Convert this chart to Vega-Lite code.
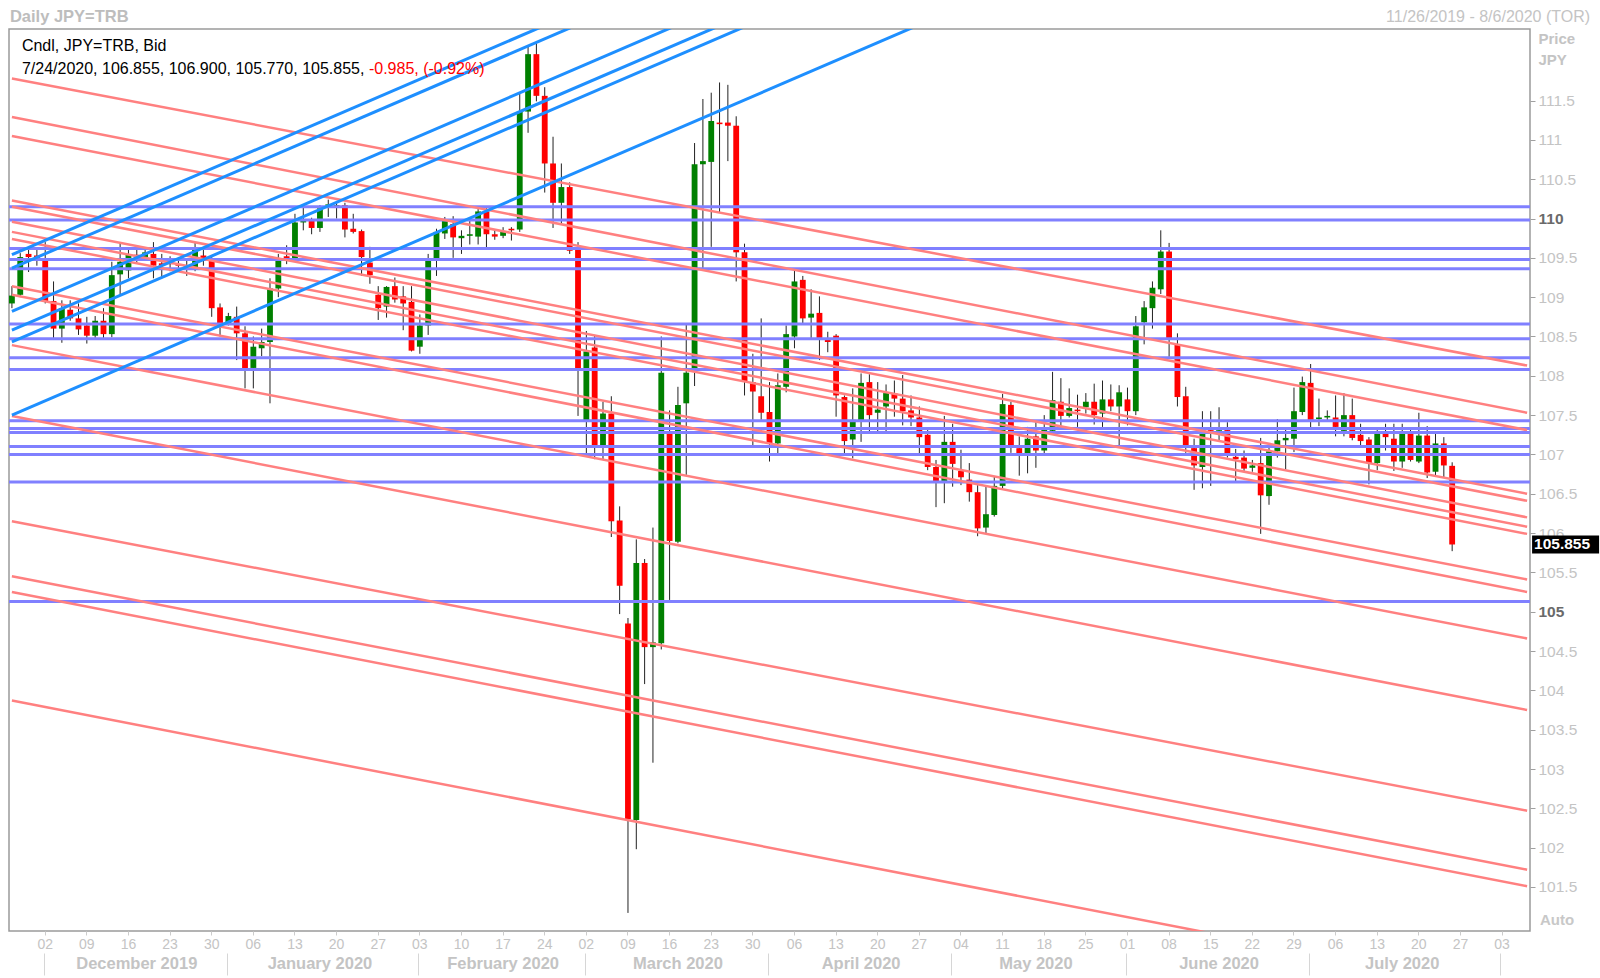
{
"$schema":"https://vega.github.io/schema/vega-lite/v6.json",
"width":1521,"height":902,
"autosize":{"type":"none"},
"padding":{"left":9,"top":29,"right":70,"bottom":47},
"background":"white",
"config":{"view":{"stroke":"#9a9a9a","strokeWidth":1.5},"font":"Liberation Sans"},
"resolve":{"axis":{"x":"independent","y":"independent"}},
"datasets":{
"candles":[
{"date":"2019-11-26","open":108.92,"high":109.14,"low":108.86,"close":109.02},
{"date":"2019-11-27","open":109.03,"high":109.56,"low":109.00,"close":109.51},
{"date":"2019-11-28","open":109.55,"high":109.60,"low":109.32,"close":109.51},
{"date":"2019-11-29","open":109.53,"high":109.60,"low":109.40,"close":109.49},
{"date":"2019-12-02","open":109.46,"high":109.70,"low":108.92,"close":108.94},
{"date":"2019-12-03","open":108.95,"high":109.20,"low":108.48,"close":108.60},
{"date":"2019-12-04","open":108.60,"high":108.96,"low":108.42,"close":108.86},
{"date":"2019-12-05","open":108.84,"high":108.96,"low":108.70,"close":108.73},
{"date":"2019-12-06","open":108.73,"high":108.92,"low":108.52,"close":108.59},
{"date":"2019-12-09","open":108.64,"high":108.75,"low":108.41,"close":108.51},
{"date":"2019-12-10","open":108.51,"high":108.76,"low":108.47,"close":108.70},
{"date":"2019-12-11","open":108.70,"high":108.86,"low":108.47,"close":108.53},
{"date":"2019-12-12","open":108.53,"high":109.45,"low":108.49,"close":109.28},
{"date":"2019-12-13","open":109.29,"high":109.69,"low":109.03,"close":109.45},
{"date":"2019-12-16","open":109.34,"high":109.60,"low":109.24,"close":109.54},
{"date":"2019-12-17","open":109.54,"high":109.62,"low":109.44,"close":109.50},
{"date":"2019-12-18","open":109.51,"high":109.62,"low":109.46,"close":109.57},
{"date":"2019-12-19","open":109.55,"high":109.70,"low":109.24,"close":109.40},
{"date":"2019-12-20","open":109.43,"high":109.55,"low":109.24,"close":109.40},
{"date":"2019-12-23","open":109.45,"high":109.52,"low":109.33,"close":109.42},
{"date":"2019-12-24","open":109.42,"high":109.47,"low":109.33,"close":109.40},
{"date":"2019-12-25","open":109.40,"high":109.47,"low":109.27,"close":109.385},
{"date":"2019-12-26","open":109.38,"high":109.69,"low":109.33,"close":109.60},
{"date":"2019-12-27","open":109.53,"high":109.60,"low":109.40,"close":109.46},
{"date":"2019-12-30","open":109.47,"high":109.51,"low":108.75,"close":108.86},
{"date":"2019-12-31","open":108.87,"high":108.92,"low":108.50,"close":108.67},
{"date":"2020-01-01","open":108.67,"high":108.80,"low":108.64,"close":108.76},
{"date":"2020-01-02","open":108.75,"high":108.88,"low":108.20,"close":108.54},
{"date":"2020-01-03","open":108.54,"high":108.63,"low":107.84,"close":108.09},
{"date":"2020-01-06","open":108.10,"high":108.50,"low":107.84,"close":108.37},
{"date":"2020-01-07","open":108.35,"high":108.60,"low":108.25,"close":108.43},
{"date":"2020-01-08","open":108.43,"high":109.24,"low":107.65,"close":109.11},
{"date":"2020-01-09","open":109.11,"high":109.55,"low":109.00,"close":109.49},
{"date":"2020-01-10","open":109.52,"high":109.66,"low":109.42,"close":109.46},
{"date":"2020-01-13","open":109.49,"high":110.06,"low":109.46,"close":109.95},
{"date":"2020-01-14","open":109.95,"high":110.15,"low":109.85,"close":109.98},
{"date":"2020-01-15","open":109.97,"high":110.01,"low":109.80,"close":109.88},
{"date":"2020-01-16","open":109.88,"high":110.17,"low":109.83,"close":110.13},
{"date":"2020-01-17","open":110.15,"high":110.24,"low":110.02,"close":110.18},
{"date":"2020-01-20","open":110.15,"high":110.20,"low":110.00,"close":110.17},
{"date":"2020-01-21","open":110.17,"high":110.20,"low":109.76,"close":109.86},
{"date":"2020-01-22","open":109.87,"high":110.06,"low":109.81,"close":109.83},
{"date":"2020-01-23","open":109.84,"high":109.86,"low":109.27,"close":109.51},
{"date":"2020-01-24","open":109.44,"high":109.64,"low":109.17,"close":109.28},
{"date":"2020-01-27","open":109.03,"high":109.14,"low":108.71,"close":108.86},
{"date":"2020-01-28","open":108.88,"high":109.14,"low":108.74,"close":109.13},
{"date":"2020-01-29","open":109.14,"high":109.25,"low":108.93,"close":108.97},
{"date":"2020-01-30","open":109.01,"high":109.14,"low":108.58,"close":108.92},
{"date":"2020-01-31","open":108.94,"high":109.14,"low":108.31,"close":108.32},
{"date":"2020-02-03","open":108.37,"high":108.78,"low":108.28,"close":108.64},
{"date":"2020-02-04","open":108.64,"high":109.55,"low":108.52,"close":109.49},
{"date":"2020-02-05","open":109.49,"high":109.87,"low":109.27,"close":109.83},
{"date":"2020-02-06","open":109.81,"high":110.02,"low":109.74,"close":109.98},
{"date":"2020-02-07","open":109.93,"high":110.03,"low":109.50,"close":109.76},
{"date":"2020-02-10","open":109.75,"high":109.85,"low":109.55,"close":109.78},
{"date":"2020-02-11","open":109.78,"high":109.98,"low":109.67,"close":109.80},
{"date":"2020-02-12","open":109.77,"high":110.12,"low":109.67,"close":110.09},
{"date":"2020-02-13","open":110.09,"high":110.14,"low":109.62,"close":109.80},
{"date":"2020-02-14","open":109.80,"high":109.86,"low":109.73,"close":109.77},
{"date":"2020-02-17","open":109.78,"high":109.89,"low":109.75,"close":109.84},
{"date":"2020-02-18","open":109.87,"high":109.89,"low":109.72,"close":109.85},
{"date":"2020-02-19","open":109.86,"high":111.59,"low":109.83,"close":111.36},
{"date":"2020-02-20","open":111.36,"high":112.20,"low":111.09,"close":112.09},
{"date":"2020-02-21","open":112.09,"high":112.23,"low":111.49,"close":111.56},
{"date":"2020-02-24","open":111.56,"high":111.67,"low":110.33,"close":110.70},
{"date":"2020-02-25","open":110.70,"high":111.04,"low":109.88,"close":110.20},
{"date":"2020-02-26","open":110.20,"high":110.70,"low":109.92,"close":110.40},
{"date":"2020-02-27","open":110.40,"high":110.46,"low":109.55,"close":109.59},
{"date":"2020-02-28","open":109.63,"high":109.70,"low":107.49,"close":108.09},
{"date":"2020-03-02","open":107.42,"high":108.57,"low":106.99,"close":108.31},
{"date":"2020-03-03","open":108.36,"high":108.52,"low":106.94,"close":107.12},
{"date":"2020-03-04","open":107.12,"high":107.67,"low":106.93,"close":107.52},
{"date":"2020-03-05","open":107.52,"high":107.74,"low":105.95,"close":106.15},
{"date":"2020-03-06","open":106.16,"high":106.34,"low":104.97,"close":105.33},
{"date":"2020-03-09","open":104.85,"high":104.92,"low":101.17,"close":102.36},
{"date":"2020-03-10","open":102.35,"high":105.92,"low":101.98,"close":105.62},
{"date":"2020-03-11","open":105.62,"high":105.67,"low":104.08,"close":104.55},
{"date":"2020-03-12","open":104.55,"high":106.07,"low":103.08,"close":104.61},
{"date":"2020-03-13","open":104.60,"high":108.50,"low":104.52,"close":108.04},
{"date":"2020-03-16","open":107.29,"high":107.56,"low":105.15,"close":105.90},
{"date":"2020-03-17","open":105.89,"high":107.86,"low":105.87,"close":107.63},
{"date":"2020-03-18","open":107.65,"high":108.67,"low":106.74,"close":108.04},
{"date":"2020-03-19","open":108.07,"high":110.96,"low":107.87,"close":110.69},
{"date":"2020-03-20","open":110.69,"high":111.52,"low":109.37,"close":110.73},
{"date":"2020-03-23","open":110.72,"high":111.60,"low":109.64,"close":111.24},
{"date":"2020-03-24","open":111.22,"high":111.73,"low":110.07,"close":111.20},
{"date":"2020-03-25","open":111.22,"high":111.70,"low":110.73,"close":111.18},
{"date":"2020-03-26","open":111.18,"high":111.30,"low":109.20,"close":109.57},
{"date":"2020-03-27","open":109.57,"high":109.68,"low":107.75,"close":107.92},
{"date":"2020-03-30","open":107.92,"high":108.28,"low":107.12,"close":107.80},
{"date":"2020-03-31","open":107.74,"high":108.73,"low":107.44,"close":107.53},
{"date":"2020-04-01","open":107.54,"high":107.92,"low":106.91,"close":107.14},
{"date":"2020-04-02","open":107.14,"high":108.03,"low":107.01,"close":107.88},
{"date":"2020-04-03","open":107.86,"high":108.64,"low":107.79,"close":108.53},
{"date":"2020-04-06","open":108.50,"high":109.34,"low":108.35,"close":109.20},
{"date":"2020-04-07","open":109.22,"high":109.27,"low":108.67,"close":108.73},
{"date":"2020-04-08","open":108.74,"high":109.10,"low":108.48,"close":108.79},
{"date":"2020-04-09","open":108.80,"high":109.01,"low":108.20,"close":108.48},
{"date":"2020-04-10","open":108.46,"high":108.56,"low":108.30,"close":108.43},
{"date":"2020-04-13","open":108.51,"high":108.53,"low":107.48,"close":107.75},
{"date":"2020-04-14","open":107.73,"high":107.75,"low":107.01,"close":107.17},
{"date":"2020-04-15","open":107.19,"high":107.84,"low":106.95,"close":107.44},
{"date":"2020-04-16","open":107.43,"high":108.03,"low":107.16,"close":107.91},
{"date":"2020-04-17","open":107.92,"high":108.02,"low":107.29,"close":107.50},
{"date":"2020-04-20","open":107.53,"high":107.92,"low":107.29,"close":107.57},
{"date":"2020-04-21","open":107.61,"high":107.89,"low":107.29,"close":107.78},
{"date":"2020-04-22","open":107.78,"high":107.94,"low":107.48,"close":107.71},
{"date":"2020-04-23","open":107.71,"high":108.01,"low":107.37,"close":107.55},
{"date":"2020-04-24","open":107.56,"high":107.75,"low":107.36,"close":107.47},
{"date":"2020-04-27","open":107.47,"high":107.61,"low":107.00,"close":107.22},
{"date":"2020-04-28","open":107.25,"high":107.31,"low":106.80,"close":106.84},
{"date":"2020-04-29","open":106.84,"high":106.93,"low":106.33,"close":106.66},
{"date":"2020-04-30","open":106.66,"high":107.49,"low":106.38,"close":107.16},
{"date":"2020-05-01","open":107.16,"high":107.39,"low":106.59,"close":106.88},
{"date":"2020-05-04","open":106.79,"high":107.06,"low":106.61,"close":106.71},
{"date":"2020-05-05","open":106.68,"high":106.89,"low":106.40,"close":106.52},
{"date":"2020-05-06","open":106.52,"high":106.61,"low":105.96,"close":106.06},
{"date":"2020-05-07","open":106.07,"high":106.61,"low":106.00,"close":106.24},
{"date":"2020-05-08","open":106.23,"high":106.72,"low":106.21,"close":106.60},
{"date":"2020-05-11","open":106.60,"high":107.77,"low":106.57,"close":107.64},
{"date":"2020-05-12","open":107.63,"high":107.67,"low":107.02,"close":107.11},
{"date":"2020-05-13","open":107.08,"high":107.23,"low":106.73,"close":107.00},
{"date":"2020-05-14","open":107.00,"high":107.35,"low":106.76,"close":107.20},
{"date":"2020-05-15","open":107.23,"high":107.41,"low":106.83,"close":107.05},
{"date":"2020-05-18","open":107.05,"high":107.50,"low":106.99,"close":107.31},
{"date":"2020-05-19","open":107.30,"high":108.05,"low":107.28,"close":107.69},
{"date":"2020-05-20","open":107.67,"high":107.97,"low":107.35,"close":107.49},
{"date":"2020-05-21","open":107.49,"high":107.84,"low":107.47,"close":107.59},
{"date":"2020-05-22","open":107.57,"high":107.76,"low":107.35,"close":107.55},
{"date":"2020-05-25","open":107.60,"high":107.78,"low":107.52,"close":107.67},
{"date":"2020-05-26","open":107.67,"high":107.90,"low":107.38,"close":107.50},
{"date":"2020-05-27","open":107.52,"high":107.94,"low":107.35,"close":107.70},
{"date":"2020-05-28","open":107.70,"high":107.89,"low":107.55,"close":107.61},
{"date":"2020-05-29","open":107.61,"high":107.88,"low":107.12,"close":107.79},
{"date":"2020-06-01","open":107.70,"high":107.85,"low":107.37,"close":107.55},
{"date":"2020-06-02","open":107.55,"high":108.76,"low":107.50,"close":108.63},
{"date":"2020-06-03","open":108.68,"high":108.95,"low":108.40,"close":108.87},
{"date":"2020-06-04","open":108.86,"high":109.20,"low":108.60,"close":109.12},
{"date":"2020-06-05","open":109.10,"high":109.85,"low":109.04,"close":109.58},
{"date":"2020-06-08","open":109.58,"high":109.69,"low":108.24,"close":108.48},
{"date":"2020-06-09","open":108.40,"high":108.54,"low":107.61,"close":107.73},
{"date":"2020-06-10","open":107.74,"high":107.86,"low":107.02,"close":107.11},
{"date":"2020-06-11","open":107.08,"high":107.20,"low":106.55,"close":106.86},
{"date":"2020-06-12","open":106.84,"high":107.55,"low":106.57,"close":107.31},
{"date":"2020-06-15","open":107.32,"high":107.55,"low":106.60,"close":107.30},
{"date":"2020-06-16","open":107.30,"high":107.60,"low":107.18,"close":107.31},
{"date":"2020-06-17","open":107.31,"high":107.41,"low":106.96,"close":106.99},
{"date":"2020-06-18","open":106.97,"high":107.07,"low":106.66,"close":106.94},
{"date":"2020-06-19","open":106.96,"high":107.05,"low":106.79,"close":106.82},
{"date":"2020-06-22","open":106.83,"high":106.93,"low":106.78,"close":106.86},
{"date":"2020-06-23","open":106.89,"high":107.21,"low":105.99,"close":106.48},
{"date":"2020-06-24","open":106.47,"high":107.09,"low":106.36,"close":107.04},
{"date":"2020-06-25","open":107.04,"high":107.45,"low":106.96,"close":107.18},
{"date":"2020-06-26","open":107.18,"high":107.33,"low":106.81,"close":107.21},
{"date":"2020-06-29","open":107.20,"high":107.85,"low":107.03,"close":107.55},
{"date":"2020-06-30","open":107.54,"high":107.99,"low":107.50,"close":107.92},
{"date":"2020-07-01","open":107.91,"high":108.15,"low":107.34,"close":107.44},
{"date":"2020-07-02","open":107.45,"high":107.71,"low":107.36,"close":107.47},
{"date":"2020-07-03","open":107.47,"high":107.56,"low":107.43,"close":107.49},
{"date":"2020-07-06","open":107.47,"high":107.75,"low":107.23,"close":107.35},
{"date":"2020-07-07","open":107.30,"high":107.78,"low":107.23,"close":107.50},
{"date":"2020-07-08","open":107.50,"high":107.71,"low":107.18,"close":107.21},
{"date":"2020-07-09","open":107.25,"high":107.39,"low":107.10,"close":107.17},
{"date":"2020-07-10","open":107.19,"high":107.22,"low":106.62,"close":106.89},
{"date":"2020-07-13","open":106.89,"high":107.31,"low":106.80,"close":107.27},
{"date":"2020-07-14","open":107.27,"high":107.39,"low":107.05,"close":107.22},
{"date":"2020-07-15","open":107.20,"high":107.39,"low":106.79,"close":106.91},
{"date":"2020-07-16","open":106.91,"high":107.39,"low":106.83,"close":107.26},
{"date":"2020-07-17","open":107.26,"high":107.33,"low":106.91,"close":106.93},
{"date":"2020-07-20","open":106.91,"high":107.53,"low":106.89,"close":107.24},
{"date":"2020-07-21","open":107.24,"high":107.36,"low":106.70,"close":106.77},
{"date":"2020-07-22","open":106.78,"high":107.26,"low":106.72,"close":107.14},
{"date":"2020-07-23","open":107.14,"high":107.22,"low":106.71,"close":106.86},
{"date":"2020-07-24","open":106.855,"high":106.900,"low":105.770,"close":105.855}
],
"hlines":[{"level":110.15},{"level":109.98},{"level":109.62},{"level":109.48},{"level":109.36},{"level":108.66},{"level":108.47},{"level":108.23},{"level":108.08},{"level":107.43},{"level":107.33},{"level":107.28},{"level":107.10},{"level":107.00},{"level":106.65},{"level":105.13}],
"red":[
{"id":"r1","date":"2019-11-26","price":111.78},{"id":"r1","date":"2020-08-06","price":108.13},
{"id":"r2","date":"2019-11-26","price":111.29},{"id":"r2","date":"2020-08-06","price":107.53},
{"id":"r3","date":"2019-11-26","price":111.05},{"id":"r3","date":"2020-08-06","price":107.31},
{"id":"r4","date":"2019-11-26","price":110.23},{"id":"r4","date":"2020-08-06","price":106.50},
{"id":"r5","date":"2019-11-26","price":110.15},{"id":"r5","date":"2020-08-06","price":106.41},
{"id":"r6","date":"2019-11-26","price":109.96},{"id":"r6","date":"2020-08-06","price":106.20},
{"id":"r7","date":"2019-11-26","price":109.83},{"id":"r7","date":"2020-08-06","price":106.08},
{"id":"r8","date":"2019-11-26","price":109.74},{"id":"r8","date":"2020-08-06","price":105.99},
{"id":"r9","date":"2019-11-26","price":109.14},{"id":"r9","date":"2020-08-06","price":105.41},
{"id":"r10","date":"2019-11-26","price":109.03},{"id":"r10","date":"2020-08-06","price":105.25},
{"id":"r11","date":"2019-11-26","price":108.39},{"id":"r11","date":"2020-08-06","price":104.66},
{"id":"r12","date":"2019-11-26","price":107.49},{"id":"r12","date":"2020-08-06","price":103.75},
{"id":"r13","date":"2019-11-26","price":106.15},{"id":"r13","date":"2020-08-06","price":102.47},
{"id":"r14","date":"2019-11-26","price":105.45},{"id":"r14","date":"2020-08-06","price":101.72},
{"id":"r15","date":"2019-11-26","price":105.25},{"id":"r15","date":"2020-08-06","price":101.51},
{"id":"r16","date":"2019-11-26","price":103.87},{"id":"r16","date":"2020-08-06","price":100.13}
],
"blue":[
{"id":"b1","date":"2019-11-26","price":109.54},{"id":"b1","date":"2020-08-06","price":117.83},
{"id":"b2","date":"2019-11-26","price":109.37},{"id":"b2","date":"2020-08-06","price":117.66},
{"id":"b3","date":"2019-11-26","price":108.82},{"id":"b3","date":"2020-08-06","price":117.11},
{"id":"b4","date":"2019-11-26","price":108.58},{"id":"b4","date":"2020-08-06","price":116.87},
{"id":"b5","date":"2019-11-26","price":108.43},{"id":"b5","date":"2020-08-06","price":116.72},
{"id":"b6","date":"2019-11-26","price":107.50},{"id":"b6","date":"2020-08-06","price":115.79}
]
},
"layer":[
{"data":{"name":"candles"},"mark":{"type":"rule","color":"#222222","strokeWidth":1},
 "encoding":{
  "x":{"field":"date","type":"ordinal","scale":{"type":"band","paddingInner":0.3,"paddingOuter":0,"domain":["2019-11-26","2019-11-27","2019-11-28","2019-11-29","2019-12-02","2019-12-03","2019-12-04","2019-12-05","2019-12-06","2019-12-09","2019-12-10","2019-12-11","2019-12-12","2019-12-13","2019-12-16","2019-12-17","2019-12-18","2019-12-19","2019-12-20","2019-12-23","2019-12-24","2019-12-25","2019-12-26","2019-12-27","2019-12-30","2019-12-31","2020-01-01","2020-01-02","2020-01-03","2020-01-06","2020-01-07","2020-01-08","2020-01-09","2020-01-10","2020-01-13","2020-01-14","2020-01-15","2020-01-16","2020-01-17","2020-01-20","2020-01-21","2020-01-22","2020-01-23","2020-01-24","2020-01-27","2020-01-28","2020-01-29","2020-01-30","2020-01-31","2020-02-03","2020-02-04","2020-02-05","2020-02-06","2020-02-07","2020-02-10","2020-02-11","2020-02-12","2020-02-13","2020-02-14","2020-02-17","2020-02-18","2020-02-19","2020-02-20","2020-02-21","2020-02-24","2020-02-25","2020-02-26","2020-02-27","2020-02-28","2020-03-02","2020-03-03","2020-03-04","2020-03-05","2020-03-06","2020-03-09","2020-03-10","2020-03-11","2020-03-12","2020-03-13","2020-03-16","2020-03-17","2020-03-18","2020-03-19","2020-03-20","2020-03-23","2020-03-24","2020-03-25","2020-03-26","2020-03-27","2020-03-30","2020-03-31","2020-04-01","2020-04-02","2020-04-03","2020-04-06","2020-04-07","2020-04-08","2020-04-09","2020-04-10","2020-04-13","2020-04-14","2020-04-15","2020-04-16","2020-04-17","2020-04-20","2020-04-21","2020-04-22","2020-04-23","2020-04-24","2020-04-27","2020-04-28","2020-04-29","2020-04-30","2020-05-01","2020-05-04","2020-05-05","2020-05-06","2020-05-07","2020-05-08","2020-05-11","2020-05-12","2020-05-13","2020-05-14","2020-05-15","2020-05-18","2020-05-19","2020-05-20","2020-05-21","2020-05-22","2020-05-25","2020-05-26","2020-05-27","2020-05-28","2020-05-29","2020-06-01","2020-06-02","2020-06-03","2020-06-04","2020-06-05","2020-06-08","2020-06-09","2020-06-10","2020-06-11","2020-06-12","2020-06-15","2020-06-16","2020-06-17","2020-06-18","2020-06-19","2020-06-22","2020-06-23","2020-06-24","2020-06-25","2020-06-26","2020-06-29","2020-06-30","2020-07-01","2020-07-02","2020-07-03","2020-07-06","2020-07-07","2020-07-08","2020-07-09","2020-07-10","2020-07-13","2020-07-14","2020-07-15","2020-07-16","2020-07-17","2020-07-20","2020-07-21","2020-07-22","2020-07-23","2020-07-24","2020-07-27","2020-07-28","2020-07-29","2020-07-30","2020-07-31","2020-08-03","2020-08-04","2020-08-05","2020-08-06"]},
   "axis":{"orient":"bottom","title":null,"grid":false,"domain":false,"values":["2019-12-02","2019-12-09","2019-12-16","2019-12-23","2019-12-30","2020-01-06","2020-01-13","2020-01-20","2020-01-27","2020-02-03","2020-02-10","2020-02-17","2020-02-24","2020-03-02","2020-03-09","2020-03-16","2020-03-23","2020-03-30","2020-04-06","2020-04-13","2020-04-20","2020-04-27","2020-05-04","2020-05-11","2020-05-18","2020-05-25","2020-06-01","2020-06-08","2020-06-15","2020-06-22","2020-06-29","2020-07-06","2020-07-13","2020-07-20","2020-07-27","2020-08-03"],"labelExpr":"slice(datum.value, 8)","labelAngle":0,"labelFontSize":14,"labelColor":"#c4c4c4","labelFont":"Liberation Sans","tickSize":4,"tickColor":"#cccccc","labelPadding":2,"labelOverlap":false}},
  "y":{"field":"low","type":"quantitative","scale":{"domain":[100.94,112.41],"nice":false,"zero":false},
   "axis":{"orient":"right","grid":false,"domain":false,"values":[101.5,102,102.5,103,103.5,104,104.5,105,105.5,106,106.5,107,107.5,108,108.5,109,109.5,110,110.5,111,111.5],"format":".1~f","labelFontSize":15.5,"labelFont":"Liberation Sans","labelColor":{"condition":{"test":"datum.value % 5 === 0","value":"#6a6a6a"},"value":"#c4c4c4"},"labelFontWeight":{"condition":{"test":"datum.value % 5 === 0","value":"bold"},"value":"normal"},"tickSize":5,"tickColor":"#a0a0a0","labelPadding":3,"title":["Price","JPY"],"titleAngle":0,"titleAlign":"left","titleBaseline":"top","titleX":8,"titleY":2,"titleFontSize":15,"titleFontWeight":"bold","titleColor":"#c4c4c4","titleFont":"Liberation Sans","titleLineHeight":21}},
  "y2":{"field":"high"}
 }},
{"data":{"name":"candles"},"mark":{"type":"bar"},
 "encoding":{
  "x":{"field":"date","type":"ordinal","axis":{"orient":"bottom","title":null,"grid":false,"domain":false,"labels":false,"values":["2019-12-02","2020-01-01","2020-02-03","2020-03-02","2020-04-01","2020-05-01","2020-06-01","2020-07-01","2020-08-03"],"tickSize":22,"tickColor":"#d6d6d6","tickWidth":1,"offset":22,"bandPosition":0.3}},
  "y":{"field":"open","type":"quantitative","axis":null},
  "y2":{"field":"close"},
  "color":{"condition":{"test":"datum.close >= datum.open","value":"#008000"},"value":"#ff0000"}
 }},
{"data":{"name":"hlines"},"mark":{"type":"rule","color":"#8080ff","strokeWidth":3},
 "encoding":{"y":{"field":"level","type":"quantitative","axis":null}}},
{"data":{"name":"red"},"mark":{"type":"line","color":"#ff8080","strokeWidth":2.5,"clip":true},
 "encoding":{
  "x":{"field":"date","type":"ordinal","axis":{"orient":"bottom","title":null,"grid":false,"domain":false,"ticks":false,"tickSize":0,"values":["2019-12-17","2020-01-16","2020-02-17","2020-03-17","2020-04-16","2020-05-15","2020-06-16","2020-07-16"],"labelExpr":"timeFormat(datetime(toNumber(slice(datum.value,0,4)), toNumber(slice(datum.value,5,7)) - 1, 15), '%B %Y')","labelAngle":0,"labelPadding":24,"labelFontSize":16.5,"labelFontWeight":"bold","labelColor":"#c4c4c4","labelFont":"Liberation Sans","labelOverlap":false}},
  "y":{"field":"price","type":"quantitative","axis":null},
  "detail":{"field":"id"}
 }},
{"data":{"name":"blue"},"mark":{"type":"line","color":"#1e8fff","strokeWidth":3,"clip":true},
 "encoding":{
  "x":{"field":"date","type":"ordinal","axis":null},
  "y":{"field":"price","type":"quantitative","axis":null},
  "detail":{"field":"id"}
 }},
{"data":{"values":[{"label":"Daily JPY=TRB","date":"2019-11-26","price":112.505}]},
 "mark":{"type":"text","align":"left","baseline":"alphabetic","dx":-2,"fontSize":16.5,"fontWeight":"bold","font":"Liberation Sans","color":"#bdbdbd"},
 "encoding":{"x":{"field":"date","type":"ordinal","axis":null},"y":{"field":"price","type":"quantitative","axis":null},"text":{"field":"label"}}},
{"data":{"values":[{"label":"Cndl, JPY=TRB, Bid","date":"2019-11-26","price":112.13}]},
 "mark":{"type":"text","align":"left","baseline":"alphabetic","dx":10,"fontSize":16,"font":"Liberation Sans","color":"#000000"},
 "encoding":{"x":{"field":"date","type":"ordinal","axis":null},"y":{"field":"price","type":"quantitative","axis":null},"text":{"field":"label"}}},
{"data":{"values":[{"label":"7/24/2020, 106.855, 106.900, 105.770, 105.855,","date":"2019-11-26","price":111.84}]},
 "mark":{"type":"text","align":"left","baseline":"alphabetic","dx":10,"fontSize":16,"font":"Liberation Sans","color":"#000000"},
 "encoding":{"x":{"field":"date","type":"ordinal","axis":null},"y":{"field":"price","type":"quantitative","axis":null},"text":{"field":"label"}}},
{"data":{"values":[{"label":"-0.985, (-0.92%)","date":"2019-11-26","price":111.84}]},
 "mark":{"type":"text","align":"left","baseline":"alphabetic","dx":357,"fontSize":16,"font":"Liberation Sans","color":"#ff0000"},
 "encoding":{"x":{"field":"date","type":"ordinal","axis":null},"y":{"field":"price","type":"quantitative","axis":null},"text":{"field":"label"}}},
{"data":{"values":[{"label":"11/26/2019 - 8/6/2020 (TOR)","date":"2020-08-06","price":112.505}]},
 "mark":{"type":"text","align":"right","baseline":"alphabetic","dx":63,"fontSize":16,"font":"Liberation Sans","color":"#c4c4c4"},
 "encoding":{"x":{"field":"date","type":"ordinal","axis":null},"y":{"field":"price","type":"quantitative","axis":null},"text":{"field":"label"}}},
{"data":{"values":[{"date":"2020-08-06","price":105.855}]},
 "mark":{"type":"rule","color":"#000000","strokeWidth":18,"strokeCap":"butt","xOffset":5,"x2Offset":72},
 "encoding":{"x":{"field":"date","type":"ordinal","axis":null},"x2":{"field":"date"},"y":{"field":"price","type":"quantitative","axis":null}}},
{"data":{"values":[{"label":"105.855","date":"2020-08-06","price":105.855}]},
 "mark":{"type":"text","align":"left","baseline":"middle","dx":7,"fontSize":15.5,"fontWeight":"bold","font":"Liberation Sans","color":"#ffffff"},
 "encoding":{"x":{"field":"date","type":"ordinal","axis":null},"y":{"field":"price","type":"quantitative","axis":null},"text":{"field":"label"}}},
{"data":{"values":[{"label":"Auto","date":"2020-08-06","price":101.075}]},
 "mark":{"type":"text","align":"center","baseline":"middle","dx":30,"fontSize":15,"fontWeight":"bold","font":"Liberation Sans","color":"#c8c8c8"},
 "encoding":{"x":{"field":"date","type":"ordinal","axis":null},"y":{"field":"price","type":"quantitative","axis":null},"text":{"field":"label"}}}
]
}
